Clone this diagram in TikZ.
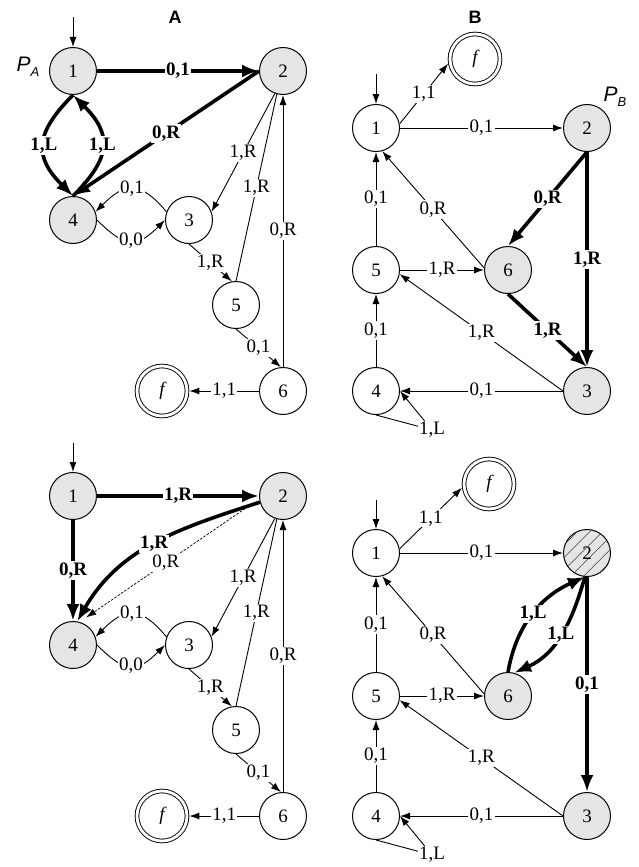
\documentclass[tikz,border=0pt]{standalone}
\usepackage{fontspec}
\setmainfont{Liberation Serif}
\newfontfamily\sansf{Liberation Sans}
\usetikzlibrary{arrows.meta,patterns.meta}

\newcommand\lfs{\fontsize{19}{21}\selectfont}
\newcommand\pname[2]{\sansf\itshape #1\raisebox{-0.45ex}{\fontsize{13}{13}\selectfont #2}}

\tikzset{
  st/.style={circle, draw, line width=1pt, minimum size=47pt, inner sep=0pt, fill=white, font=\lfs},
  gst/.style={st, fill=black!10},
  hst/.style={gst, postaction={pattern={Lines[angle=45,distance=9pt,line width=0.6pt]}, pattern color=black!75}},
  fin/.style={circle, draw, line width=0.9pt, double=white, double distance=2.8pt,
              minimum size=50pt, inner sep=0pt, outer sep=2.4pt, font=\lfs\itshape},
  tn/.style={line width=0.9pt, -{Latex[length=10pt,width=7pt]}},
  tl/.style={line width=0.9pt},
  tk/.style={line width=3.6pt, -{Latex[length=17pt,width=13pt]}},
  lb/.style={fill=white, inner sep=1.3pt, font=\lfs},
  blb/.style={lb, font=\lfs\bfseries},
  ttl/.style={font=\sansf\bfseries\fontsize{18}{18}\selectfont},
  pl/.style={font=\fontsize{21}{21}\selectfont},
}

\begin{document}
\begin{tikzpicture}[x=1pt,y=1pt]
\useasboundingbox (0,0) rectangle (638,-867);

% ---------- machine A, first version ----------
\node[ttl] (ta) at (175,-17) {A};
\node[pl] (pa) at (28,-67) {\pname{P}{A}};
\node[gst] (a1) at (73,-71) {1};
\node[gst] (a2) at (283,-71) {2};
\node[gst] (a4) at (73,-220) {4};
\node[st]  (a3) at (189,-220) {3};
\node[st]  (a5) at (236,-305) {5};
\node[st]  (a6) at (283,-391) {6};
\node[fin] (af) at (162,-391) {f};
\coordinate (a0) at (73,-17);
\draw[tn] (a0) -- (a1);
\draw[tk] (a1) -- node[blb]{0,1} (a2);
\draw[tk] (a2.west) -- node[blb]{0,R} (a4.north);
\draw[tk] (a1.south) to[out=-135,in=135,looseness=1.4] node[blb]{1,L} (a4.north);
\draw[tk] (a4.north) to[out=45,in=-45,looseness=1.4] node[blb]{1,L} (a1.south);
\draw[tn] (a4.east) to[out=-45,in=-135,looseness=1.5] node[lb]{0,0} (a3.west);
\draw[tn] (a3.160) to[out=130,in=45,looseness=1.5] node[lb]{0,1} (a4.20);
\draw[tn] (a2.250) -- node[lb]{1,R} (a3.20);
\draw[tl] (a5.north) -- node[lb]{1,R} (a2.255);
\draw[tn] (a6.north) -- node[lb]{0,R} (a2.south);
\draw[tn] (a3.south) -- node[lb]{1,R} (a5.100);
\draw[tn] (a5.south) -- node[lb]{0,1} (a6.95);
\draw[tn] (a6.west) -- node[lb]{1,1} (af.east);

% ---------- machine B, first version ----------
\node[ttl] (tb) at (475,-17) {B};
\node[pl] (pb) at (615,-97) {\pname{P}{B}};
\node[st]  (b1) at (376,-128) {1};
\node[gst] (b2) at (587,-128) {2};
\node[st]  (b5) at (376,-270) {5};
\node[gst] (b6) at (508,-270) {6};
\node[st]  (b4) at (376,-391) {4};
\node[gst] (b3) at (587,-391) {3};
\node[fin] (bf) at (475,-59) {f};
\coordinate (b0) at (376,-74);
\draw[tn] (b0) -- (b1);
\draw[tn] (b1.10) -- node[lb]{1,1} (bf.190);
\draw[tn] (b1) -- node[lb]{0,1} (b2);
\draw[tn] (b5) -- node[lb]{0,1} (b1);
\draw[tn] (b6.175) -- node[lb]{0,R} (b1.-75);
\draw[tk] (b2.south) -- node[blb]{0,R} (b6.north);
\draw[tk] (b2) -- node[blb]{1,R} (b3);
\draw[tk] (b6.south) -- node[blb]{1,R} (b3.north);
\draw[tn] (b5) -- node[lb]{1,R} (b6);
\draw[tn] (b3.west) -- node[lb]{1,R} (b5.-10);
\draw[tn] (b4) -- node[lb]{0,1} (b5);
\draw[tn] (b3) -- node[lb]{0,1} (b4);
\coordinate (b4l) at (432,-430);
\draw[tn] (b4.south) -- (b4l) node[lb]{1,L} -- (b4.east);

% ---------- machine A, second version ----------
\node[gst] (c1) at (73,-496) {1};
\node[gst] (c2) at (283,-496) {2};
\node[gst] (c4) at (73,-645) {4};
\node[st]  (c3) at (189,-645) {3};
\node[st]  (c5) at (236,-730) {5};
\node[st]  (c6) at (283,-816) {6};
\node[fin] (cf) at (162,-816) {f};
\coordinate (c0) at (73,-443);
\draw[tn] (c0) -- (c1);
\draw[tn, line width=0.7pt, dash pattern=on 2.5pt off 1.5pt, shorten <=9pt, shorten >=8pt]
  (c2.187) -- node[lb, pos=0.52]{0,R} (c4.74);
\draw[tk] (c1) -- node[blb]{1,R} (c2);
\draw[tk] (c1) -- node[blb]{0,R} (c4);
\draw[tk] (c2.195) to[out=198,in=60] node[blb]{1,R} (c4.80);
\draw[tn] (c4.east) to[out=-45,in=-135,looseness=1.5] node[lb]{0,0} (c3.west);
\draw[tn] (c3.160) to[out=130,in=45,looseness=1.5] node[lb]{0,1} (c4.20);
\draw[tn] (c2.250) -- node[lb]{1,R} (c3.20);
\draw[tl] (c5.north) -- node[lb]{1,R} (c2.255);
\draw[tn] (c6.north) -- node[lb]{0,R} (c2.south);
\draw[tn] (c3.south) -- node[lb]{1,R} (c5.100);
\draw[tn] (c5.south) -- node[lb]{0,1} (c6.95);
\draw[tn] (c6.west) -- node[lb]{1,1} (cf.east);

% ---------- machine B, second version ----------
\node[st]  (d1) at (376,-553) {1};
\node[hst] (d2) at (587,-553) {2};
\node[st]  (d5) at (376,-696) {5};
\node[gst] (d6) at (508,-696) {6};
\node[st]  (d4) at (376,-816) {4};
\node[gst] (d3) at (587,-816) {3};
\node[fin] (df) at (489,-484) {f};
\coordinate (d0) at (376,-500);
\draw[tn] (d0) -- (d1);
\draw[tn] (d1.10) -- node[lb]{1,1} (df.188);
\draw[tn] (d1) -- node[lb]{0,1} (d2);
\draw[tn] (d5) -- node[lb]{0,1} (d1);
\draw[tn] (d6.175) -- node[lb]{0,R} (d1.-75);
\draw[tk] (d2) -- node[blb]{0,1} (d3);
\draw[tk] (d6.north) to[out=80,in=204] node[blb]{1,L} (d2.-95);
\draw[tk] (d2.-95) to[out=254,in=24] node[blb]{1,L} (d6.75);
\draw[tn] (d5) -- node[lb]{1,R} (d6);
\draw[tn] (d3.west) -- node[lb]{1,R} (d5.-10);
\draw[tn] (d4) -- node[lb]{0,1} (d5);
\draw[tn] (d3) -- node[lb]{0,1} (d4);
\coordinate (d4l) at (432,-855);
\draw[tn] (d4.south) -- (d4l) node[lb]{1,L} -- (d4.east);
\end{tikzpicture}
\end{document}
